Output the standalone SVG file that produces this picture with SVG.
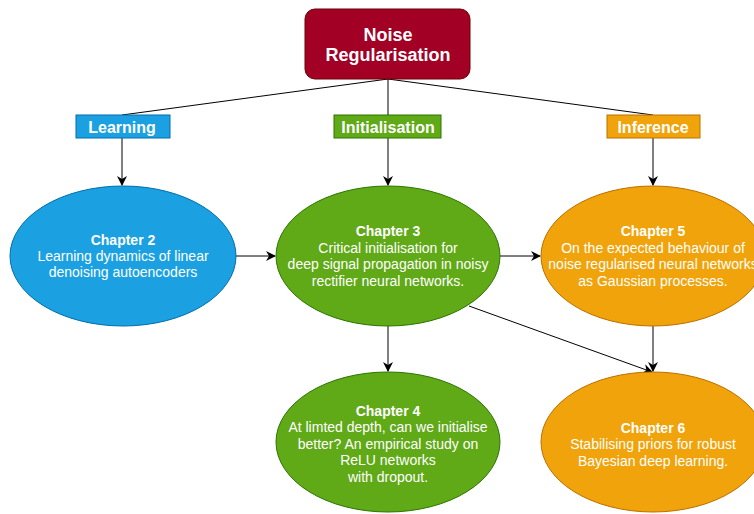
<svg xmlns="http://www.w3.org/2000/svg" width="754" height="514" viewBox="0 0 754 514">
<defs>
<marker id="arr" viewBox="0 0 10 10" refX="9" refY="5" markerWidth="10" markerHeight="10" markerUnits="userSpaceOnUse" orient="auto">
<path d="M0,0 L10,5 L0,10 L3,5 Z" fill="#000"/>
</marker>
</defs>
<style>
text{font-family:"Liberation Sans",Arial,sans-serif;fill:#fff;text-anchor:middle}
.t{font-size:14px}
.b{font-weight:bold}
.cat{font-size:16px;font-weight:bold}
.blue{fill:#1ba1e2;stroke:#006eaf}
.green{fill:#60a917;stroke:#2d7600}
.orange{fill:#f0a30a;stroke:#bd7000}
.edge{fill:none;stroke:#000;stroke-width:1}
</style>
<rect width="754" height="514" fill="#fff"/>
<g id="connectors">
<line class="edge" x1="388" y1="79" x2="122" y2="115"/>
<line class="edge" x1="388" y1="79" x2="388" y2="115"/>
<line class="edge" x1="388" y1="79" x2="653" y2="115"/>
<line class="edge" x1="122" y1="138" x2="122" y2="185" marker-end="url(#arr)"/>
<line class="edge" x1="388" y1="138" x2="388" y2="185" marker-end="url(#arr)"/>
<line class="edge" x1="653" y1="138" x2="653" y2="185" marker-end="url(#arr)"/>
<line class="edge" x1="236" y1="256" x2="275" y2="256" marker-end="url(#arr)"/>
<line class="edge" x1="500" y1="256" x2="540" y2="256" marker-end="url(#arr)"/>
<line class="edge" x1="388" y1="326" x2="388" y2="371" marker-end="url(#arr)"/>
<line class="edge" x1="653" y1="326" x2="653" y2="371" marker-end="url(#arr)"/>
<line class="edge" x1="469" y1="306" x2="652" y2="372" marker-end="url(#arr)"/>
</g>
<g id="noise">
<rect x="305" y="9" width="165" height="70" rx="10" fill="#a20025" stroke="#6f0000"/>
<text x="388" y="41" style="font-size:18px;font-weight:bold">Noise</text>
<text x="388" y="61" style="font-size:18px;font-weight:bold">Regularisation</text>
</g>
<g id="learning">
<rect x="76" y="115" width="94" height="23" class="blue"/>
<text x="122" y="133" class="cat">Learning</text>
</g>
<g id="initialisation">
<rect x="334" y="115" width="107" height="23" class="green"/>
<text x="388" y="133" class="cat">Initialisation</text>
</g>
<g id="inference">
<rect x="607" y="115" width="93" height="23" class="orange"/>
<text x="653" y="133" class="cat">Inference</text>
</g>
<g id="ch2">
<ellipse cx="123" cy="256" rx="113" ry="70" class="blue"/>
<text x="123" y="245" class="t b">Chapter 2</text>
<text x="123" y="261" class="t">Learning dynamics of linear</text>
<text x="123" y="277" class="t">denoising autoencoders</text>
</g>
<g id="ch3">
<ellipse cx="388" cy="256" rx="112" ry="70" class="green"/>
<text x="388" y="236" class="t b">Chapter 3</text>
<text x="388" y="253" class="t">Critical initialisation for</text>
<text x="388" y="269" class="t">deep signal propagation in noisy</text>
<text x="388" y="286" class="t">rectifier neural networks.</text>
</g>
<g id="ch5">
<ellipse cx="653" cy="256" rx="112" ry="70" class="orange"/>
<text x="653" y="236" class="t b">Chapter 5</text>
<text x="653" y="253" class="t">On the expected behaviour of</text>
<text x="653" y="269" class="t">noise regularised neural networks</text>
<text x="653" y="286" class="t">as Gaussian processes.</text>
</g>
<g id="ch4">
<ellipse cx="388" cy="442" rx="112" ry="70" class="green"/>
<text x="388" y="416" class="t b">Chapter 4</text>
<text x="388" y="432" class="t">At limted depth, can we initialise</text>
<text x="388" y="449" class="t">better? An empirical study on</text>
<text x="388" y="465" class="t">ReLU networks</text>
<text x="388" y="482" class="t">with dropout.</text>
</g>
<g id="ch6">
<ellipse cx="653" cy="442" rx="112" ry="70" class="orange"/>
<text x="653" y="433" class="t b">Chapter 6</text>
<text x="653" y="449" class="t">Stabilising priors for robust</text>
<text x="653" y="466" class="t">Bayesian deep learning.</text>
</g>
</svg>
